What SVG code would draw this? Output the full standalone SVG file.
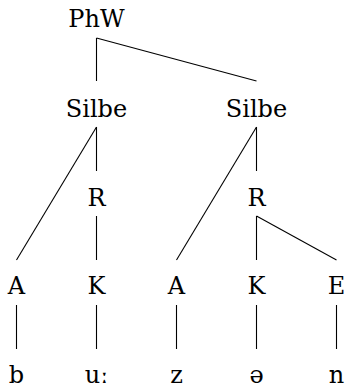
<svg xmlns="http://www.w3.org/2000/svg" width="345" height="391" viewBox="0 0 345 391">
<style>
text{font-family:'DejaVu Serif',serif;font-size:24px;fill:#000;text-anchor:middle}
#edges line{stroke:#000;stroke-width:1.1}
</style>
<rect width="345" height="391" fill="#fff"/>
<g id="edges">
<line x1="96.5" y1="38" x2="96.5" y2="81"/>
<line x1="96.5" y1="38" x2="256.5" y2="81"/>
<line x1="96.5" y1="127" x2="16.5" y2="260"/>
<line x1="96.5" y1="127" x2="96.5" y2="171"/>
<line x1="256.5" y1="127" x2="176.5" y2="260"/>
<line x1="256.5" y1="127" x2="256.5" y2="171"/>
<line x1="96.5" y1="216" x2="96.5" y2="260"/>
<line x1="256.5" y1="216" x2="256.5" y2="260"/>
<line x1="256.5" y1="216" x2="336.5" y2="260"/>
<line x1="16.5" y1="305" x2="16.5" y2="349"/>
<line x1="96.5" y1="305" x2="96.5" y2="349"/>
<line x1="176.5" y1="305" x2="176.5" y2="349"/>
<line x1="256.5" y1="305" x2="256.5" y2="349"/>
<line x1="336.5" y1="305" x2="336.5" y2="349"/>
</g>
<g id="phw"><text x="96.5" y="27">PhW</text></g>
<g id="silbe1"><text x="96.5" y="117">Silbe</text></g>
<g id="silbe2"><text x="256.5" y="117">Silbe</text></g>
<g id="r1"><text x="96.5" y="206">R</text></g>
<g id="r2"><text x="256.5" y="206">R</text></g>
<g id="a1"><text x="16.5" y="294">A</text></g>
<g id="k1"><text x="96.5" y="294">K</text></g>
<g id="a2"><text x="176.5" y="294">A</text></g>
<g id="k2"><text x="256.5" y="294">K</text></g>
<g id="e"><text x="336.5" y="294">E</text></g>
<g id="b"><text x="16.5" y="383">b</text></g>
<g id="u"><text x="96.5" y="383">uː</text></g>
<g id="z"><text x="176.5" y="383">z</text></g>
<g id="schwa"><text x="256.5" y="383">ə</text></g>
<g id="n"><text x="336.5" y="383">n</text></g>
</svg>
